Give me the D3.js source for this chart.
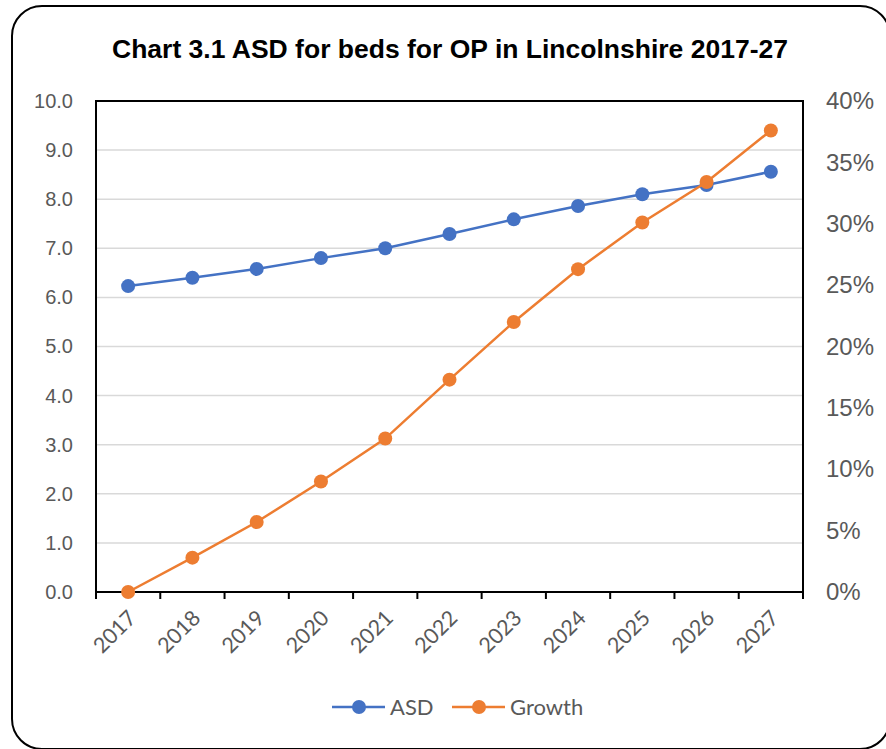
<!DOCTYPE html>
<html>
<head>
<meta charset="utf-8">
<script src="https://cdn.jsdelivr.net/npm/d3@7"></script>
<style>
  html, body { margin: 0; padding: 0; background: #fff; }
  svg { display: block; }
</style>
</head>
<body>
<svg id="chart" width="886" height="749"></svg>
<script>
// Annual series, 2017-2027
const years = ["2017","2018","2019","2020","2021","2022","2023","2024","2025","2026","2027"];
const asd = [6.23, 6.40, 6.58, 6.80, 7.00, 7.29, 7.59, 7.86, 8.10, 8.29, 8.56];
const growth = [0.000, 0.028, 0.057, 0.090, 0.125, 0.173, 0.220, 0.263, 0.301, 0.334, 0.376];
const leftTicks = [0, 1, 2, 3, 4, 5, 6, 7, 8, 9, 10];
const rightTicks = [0, 0.05, 0.10, 0.15, 0.20, 0.25, 0.30, 0.35, 0.40];
const titleText = "Chart 3.1 ASD for beds for OP in Lincolnshire 2017-27";
const seriesNames = ["ASD", "Growth"];
const colors = ["#4472C4", "#ED7D31"];

const svg = d3.select("#chart");
const plot = { left: 96, right: 803, top: 101, bottom: 592 };

// Outer rounded frame
svg.append("rect")
  .attr("x", 12).attr("y", 6)
  .attr("width", 878).attr("height", 743)
  .attr("rx", 30).attr("ry", 30)
  .attr("fill", "#fff").attr("stroke", "#000").attr("stroke-width", 2);

// Title
svg.append("text")
  .attr("x", 450).attr("y", 58)
  .attr("text-anchor", "middle")
  .attr("font-family", "'Liberation Sans', Arial, sans-serif")
  .attr("font-weight", "bold")
  .attr("font-size", 26.5)
  .attr("fill", "#000")
  .text(titleText);

const x = d3.scaleBand().domain(years).range([plot.left, plot.right]).padding(0);
const yL = d3.scaleLinear().domain([0, 10]).range([plot.bottom, plot.top]);
const yR = d3.scaleLinear().domain([0, 0.40]).range([plot.bottom, plot.top]);
const cx = d => x(d) + x.bandwidth() / 2;

// Gridlines
svg.append("g")
  .selectAll("line")
  .data(leftTicks.filter(t => t > 0 && t < 10))
  .join("line")
  .attr("x1", plot.left).attr("x2", plot.right)
  .attr("y1", d => yL(d)).attr("y2", d => yL(d))
  .attr("stroke", "#d9d9d9").attr("stroke-width", 1.5);

// Plot area border
svg.append("rect")
  .attr("x", plot.left).attr("y", plot.top)
  .attr("width", plot.right - plot.left).attr("height", plot.bottom - plot.top)
  .attr("fill", "none").attr("stroke", "#000").attr("stroke-width", 2);

// Left axis labels
const leftAxis = svg.append("g")
  .attr("transform", `translate(${plot.left},0)`)
  .call(d3.axisLeft(yL).tickValues(leftTicks).tickFormat(d3.format(".1f")).tickSize(0).tickPadding(23));
leftAxis.select(".domain").remove();
leftAxis.selectAll("text")
  .attr("font-family", "'Liberation Sans', Arial, sans-serif")
  .attr("font-size", 20).attr("fill", "#595959");

// Right axis labels
const rightAxis = svg.append("g")
  .attr("transform", `translate(${plot.right},0)`)
  .call(d3.axisRight(yR).tickValues(rightTicks).tickFormat(d3.format(".0%")).tickSize(0).tickPadding(23));
rightAxis.select(".domain").remove();
rightAxis.selectAll("text")
  .attr("font-family", "'Liberation Sans', Arial, sans-serif")
  .attr("font-size", 24).attr("fill", "#595959");

// Bottom axis: ticks at category boundaries
const bounds = years.map(d => x(d)).concat([plot.right]);
svg.append("g").selectAll("line")
  .data(bounds)
  .join("line")
  .attr("x1", d => d).attr("x2", d => d)
  .attr("y1", plot.bottom).attr("y2", plot.bottom + 7)
  .attr("stroke", "#000").attr("stroke-width", 2);

svg.append("g").selectAll("text")
  .data(years)
  .join("text")
  .attr("transform", d => `translate(${cx(d) + 4},${plot.bottom + 22}) rotate(-45)`)
  .attr("text-anchor", "end")
  .attr("dy", "0.35em")
  .attr("font-family", "Lato, 'Open Sans', sans-serif")
  .attr("font-size", 21.5)
  .attr("fill", "#595959")
  .text(d => d);

// Series lines and markers
const lineL = d3.line().x((d, i) => cx(years[i])).y(d => yL(d));
const lineR = d3.line().x((d, i) => cx(years[i])).y(d => yR(d));

function drawSeries(values, lineGen, yScale, color) {
  svg.append("path")
    .datum(values)
    .attr("d", lineGen)
    .attr("fill", "none")
    .attr("stroke", color)
    .attr("stroke-width", 2.5);
  svg.append("g").selectAll("circle")
    .data(values)
    .join("circle")
    .attr("cx", (d, i) => cx(years[i]))
    .attr("cy", d => yScale(d))
    .attr("r", 7)
    .attr("fill", color);
}
drawSeries(asd, lineL, yL, colors[0]);
drawSeries(growth, lineR, yR, colors[1]);

// Legend
const legendItems = [
  { name: seriesNames[0], color: colors[0], x: 332 },
  { name: seriesNames[1], color: colors[1], x: 452 }
];
const lg = svg.append("g");
legendItems.forEach(it => {
  lg.append("line")
    .attr("x1", it.x).attr("x2", it.x + 53)
    .attr("y1", 707).attr("y2", 707)
    .attr("stroke", it.color).attr("stroke-width", 2.5);
  lg.append("circle")
    .attr("cx", it.x + 27).attr("cy", 707).attr("r", 7)
    .attr("fill", it.color);
  lg.append("text")
    .attr("x", it.x + 58).attr("y", 707)
    .attr("dy", "0.35em")
    .attr("font-family", "Lato, 'Open Sans', sans-serif")
    .attr("font-size", 22)
    .attr("fill", "#595959")
    .text(it.name);
});
</script>
</body>
</html>
